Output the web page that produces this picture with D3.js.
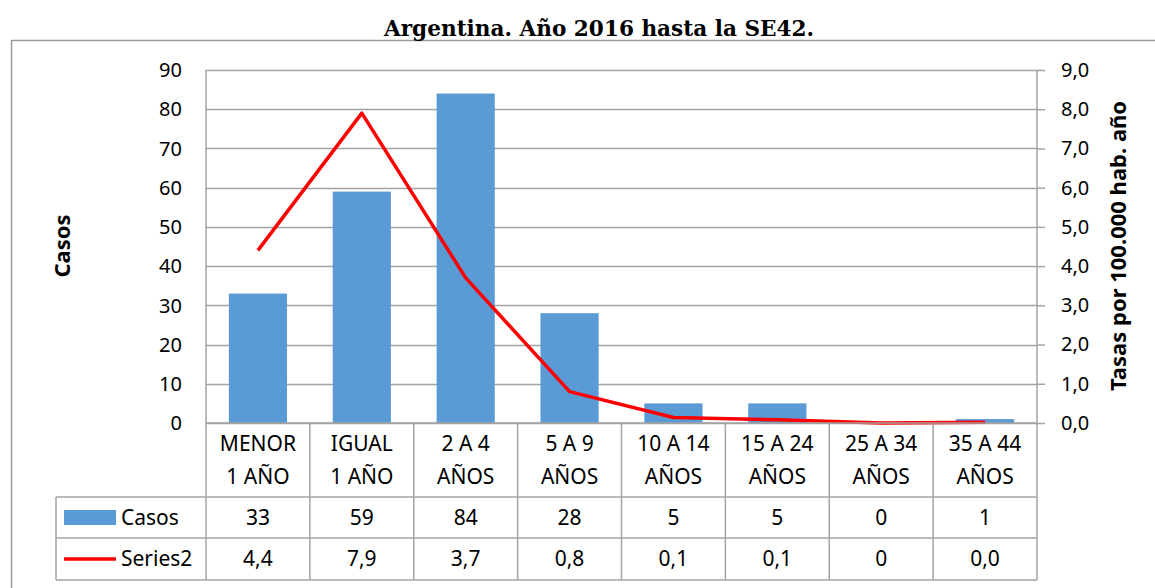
<!DOCTYPE html>
<meta charset="utf-8">
<script src="https://d3js.org/d3.v7.min.js"></script>
<style>
  body { margin: 0; background: #fff; }
  text { font-family: "Noto Sans", sans-serif; fill: #000; }
</style>
<div id="chart"></div>
<script>
// data
const categories = [["MENOR", "1 AÑO"], ["IGUAL", "1 AÑO"], ["2 A 4", "AÑOS"], ["5 A 9", "AÑOS"],
                    ["10 A 14", "AÑOS"], ["15 A 24", "AÑOS"], ["25 A 34", "AÑOS"], ["35 A 44", "AÑOS"]];
const casos = [33, 59, 84, 28, 5, 5, 0, 1];
const tasas = [4.4, 7.9, 3.7, 0.8, 0.14, 0.08, 0, 0.02];
const casosLabels = ["33", "59", "84", "28", "5", "5", "0", "1"];
const tasasLabels = ["4,4", "7,9", "3,7", "0,8", "0,1", "0,1", "0", "0,0"];
const leftTicks = [0, 10, 20, 30, 40, 50, 60, 70, 80, 90];
const rightTicks = [0, 1, 2, 3, 4, 5, 6, 7, 8, 9];

const W = 1155, H = 588;
const plot = {left: 206, right: 1037, top: 70, bottom: 423};
const rows = {header: 497, row1: 538, row2: 580, legendLeft: 56};
const gridColor = "#a3a3a3";

const svg = d3.select("#chart").append("svg")
    .attr("width", W).attr("height", H);

// outer frame
svg.append("rect")
    .attr("x", 11.5).attr("y", 40.5).attr("width", 1160).attr("height", 600)
    .attr("fill", "none").attr("stroke", "#9a9a9a").attr("stroke-width", 1.5);

// title
svg.append("text")
    .attr("x", 599).attr("y", 36)
    .attr("text-anchor", "middle")
    .style("font-family", "'DejaVu Serif', serif")
    .style("font-weight", "bold").style("font-size", "22px")
    .attr("textLength", 430).attr("lengthAdjust", "spacingAndGlyphs")
    .text("Argentina. Año 2016 hasta la SE42.");

const idx = d3.range(categories.length);
const x = d3.scaleBand().domain(idx).range([plot.left, plot.right])
    .paddingInner(0.44).paddingOuter(0.22);
const step = x.step();
const yL = d3.scaleLinear().domain([0, 90]).range([plot.bottom, plot.top]);
const yR = d3.scaleLinear().domain([0, 9]).range([plot.bottom, plot.top]);

// gridlines
svg.append("g").selectAll("line").data(leftTicks).join("line")
    .attr("x1", plot.left).attr("x2", plot.right)
    .attr("y1", d => Math.round(yL(d)) + 0.5).attr("y2", d => Math.round(yL(d)) + 0.5)
    .attr("stroke", gridColor).attr("stroke-width", 1.5);

// left axis labels
svg.append("g").selectAll("text").data(leftTicks).join("text")
    .attr("x", 182).attr("y", d => yL(d)).attr("dy", "0.36em")
    .attr("text-anchor", "end").style("font-size", "20px")
    .text(d => d);

// right axis with outer ticks
const rightAxis = d3.axisRight(yR).tickValues(rightTicks).tickSize(8).tickPadding(16)
    .tickFormat(d => d3.format(".1f")(d).replace(".", ","));
const ra = svg.append("g").attr("transform", `translate(${plot.right},0)`).call(rightAxis);
ra.select(".domain").remove();
ra.selectAll("line").attr("stroke", gridColor).attr("stroke-width", 1.5);
ra.selectAll("text").style("font-size", "20px").style("font-family", "'Noto Sans', sans-serif").attr("fill", "#000");

// bars
svg.append("g").selectAll("rect").data(casos).join("rect")
    .attr("x", (d, i) => x(i)).attr("width", x.bandwidth())
    .attr("y", d => yL(d)).attr("height", d => yL(0) - yL(d))
    .attr("fill", "#5b9bd5");

// rate line
const line = d3.line().x((d, i) => x(i) + x.bandwidth() / 2).y(d => yR(d));
svg.append("path").datum(tasas)
    .attr("d", line).attr("fill", "none")
    .attr("stroke", "#ff0000").attr("stroke-width", 3.5).attr("stroke-linejoin", "round");

// table lines
const tbl = svg.append("g").attr("stroke", gridColor).attr("stroke-width", 1.5);
const colEdges = d3.range(categories.length + 1).map(i => plot.left + i * step);
tbl.selectAll("line.v").data(colEdges).join("line")
    .attr("x1", d => d).attr("x2", d => d)
    .attr("y1", (d, i) => (i === 0 || i === colEdges.length - 1) ? plot.top : plot.bottom)
    .attr("y2", rows.row2);
tbl.append("line").attr("x1", plot.left).attr("x2", plot.right).attr("y1", plot.bottom).attr("y2", plot.bottom);
[rows.header, rows.row1, rows.row2].forEach(yv => {
  tbl.append("line").attr("x1", rows.legendLeft).attr("x2", plot.right).attr("y1", yv).attr("y2", yv);
});
tbl.append("line").attr("x1", rows.legendLeft).attr("x2", rows.legendLeft).attr("y1", rows.header).attr("y2", rows.row2);

// header labels
const hdr = svg.append("g").selectAll("text").data(categories).join("text")
    .attr("text-anchor", "middle").style("font-size", "21px");
hdr.append("tspan").attr("x", (d, i) => x(i) + x.bandwidth() / 2).attr("y", 451).text(d => d[0]);
hdr.append("tspan").attr("x", (d, i) => x(i) + x.bandwidth() / 2).attr("y", 484).text(d => d[1]);

// table values
svg.append("g").selectAll("text").data(casosLabels).join("text")
    .attr("x", (d, i) => x(i) + x.bandwidth() / 2).attr("y", 525)
    .attr("text-anchor", "middle").style("font-size", "21px").text(d => d);
svg.append("g").selectAll("text").data(tasasLabels).join("text")
    .attr("x", (d, i) => x(i) + x.bandwidth() / 2).attr("y", 566)
    .attr("text-anchor", "middle").style("font-size", "21px").text(d => d);

// legend keys in table
svg.append("rect").attr("x", 64).attr("y", 510).attr("width", 52).attr("height", 15).attr("fill", "#5b9bd5");
svg.append("text").attr("x", 121).attr("y", 525).style("font-size", "21px").text("Casos");
svg.append("line").attr("x1", 64).attr("x2", 116).attr("y1", 559).attr("y2", 559)
    .attr("stroke", "#ff0000").attr("stroke-width", 3.5);
svg.append("text").attr("x", 121).attr("y", 566).style("font-size", "21px").text("Series2");

// axis titles
svg.append("text")
    .attr("transform", "translate(70,246) rotate(-90)")
    .attr("text-anchor", "middle").style("font-size", "22px").style("font-weight", "bold")
    .text("Casos");
svg.append("text")
    .attr("transform", "translate(1126,246) rotate(-90)")
    .attr("text-anchor", "middle").style("font-size", "22px").style("font-weight", "bold")
    .text("Tasas por 100.000 hab. año");
</script>
